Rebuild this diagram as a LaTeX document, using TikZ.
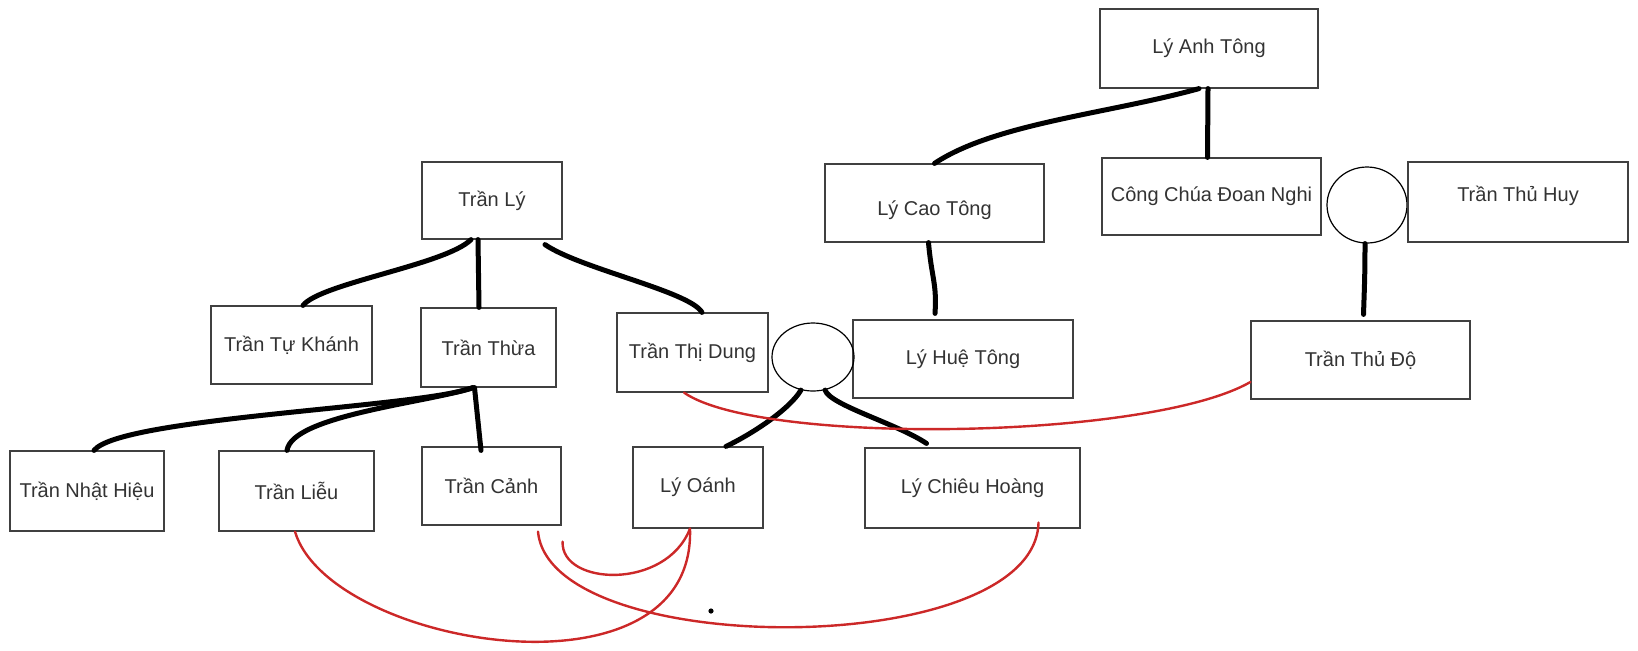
\documentclass[tikz,border=0pt]{standalone}
\usepackage{fontspec}
\setmainfont{Liberation Sans}
\usetikzlibrary{shapes.geometric}
\definecolor{inkred}{RGB}{204,40,40}
\definecolor{textgray}{RGB}{51,51,51}
\begin{document}
\begin{tikzpicture}[x=0.5pt,y=-0.5pt,
  person/.style={draw=black!75, line width=0.6pt, minimum height=39pt, inner sep=0pt,
    text=textgray, font=\fontsize{10}{12}\selectfont},
  ring/.style={draw, ellipse, line width=0.6pt, inner sep=0pt},
  kin/.style={line width=2.5pt, line cap=round},
  wed/.style={draw=inkred, line width=1.2pt, line cap=round}]
\useasboundingbox (0,0) rectangle (1638,650);
% Draw the Ly side
\node[person, minimum width=109pt, minimum height=39.5pt] (anhtong) at (1209,48.5) {Lý Anh Tông};
\node[person, minimum width=109.5pt] (caotong) at (934.5,203) {\raisebox{-15pt}{Lý Cao Tông}};
\node[person, minimum width=109.5pt, minimum height=38.5pt] (doannghi) at (1211.5,196.5) {Công Chúa Đoan Nghi};
\node[ring, minimum width=40pt, minimum height=38pt] (ring1) at (1367,205) {};
\node[person, minimum width=110pt, minimum height=40pt] (thuhuy) at (1518,202) {\raisebox{8pt}{Trần Thủ Huy}};
\node[person, minimum width=110pt] (huetong) at (963,359) {Lý Huệ Tông};
\node[person, minimum width=109.5pt] (thudo) at (1360.5,360) {Trần Thủ Độ};
% Draw the Tran side
\node[person, minimum width=70pt, minimum height=38.5pt] (tranly) at (492,200.5) {Trần Lý};
\node[person, minimum width=80.5pt] (tukhanh) at (291.5,345) {Trần Tự Khánh};
\node[person, minimum width=67.5pt, minimum height=39.5pt] (thua) at (488.5,347.5) {Trần Thừa};
\node[person, minimum width=75.5pt, minimum height=39.5pt] (thidung) at (692.5,352.5) {Trần Thị Dung};
\node[ring, minimum width=41pt, minimum height=34pt] (ring2) at (813,357) {};
% Draw the bottom row
\node[person, minimum width=77pt, minimum height=40pt] (nhathieu) at (87,491) {Trần Nhật Hiệu};
\node[person, minimum width=77.5pt, minimum height=40pt] (lieu) at (296.5,491) {Trần Liễu};
\node[person, minimum width=69.5pt] (canh) at (491.5,486) {Trần Cảnh};
\node[person, minimum width=65pt, minimum height=40.5pt] (oanh) at (698,487.5) {Lý Oánh};
\node[person, minimum width=107.5pt, minimum height=40pt] (chieuhoang) at (972.5,488) {Lý Chiêu Hoàng};

% Draw black lines
\draw[kin] ([xshift=-5pt]anhtong.south) .. controls +(-90,25) and +(60,-40) .. (caotong.north);
\draw[kin] ([xshift=-0.5pt]anhtong.south) -- ([xshift=-2pt]doannghi.north);
\draw[kin] ([xshift=-3pt]caotong.south) .. controls +(3,35) and +(2,-30) .. ([xshift=-14pt,yshift=3pt]huetong.north);
\draw[kin] ([xshift=-1pt]ring1.south) .. controls +(0,30) and +(1,-30) .. ([xshift=1.5pt,yshift=3pt]thudo.north);
\draw[kin] ([xshift=-10.5pt]tranly.south) .. controls +(-25,25) and +(17,-22) .. ([xshift=5.75pt]tukhanh.north);
\draw[kin] ([xshift=-7pt]tranly.south) -- ([xshift=-4.75pt]thua.north);
\draw[kin] ([xshift=26.5pt,yshift=-2.5pt]tranly.south) .. controls +(35,24) and +(-12,-21) .. ([xshift=4.75pt]thidung.north);
\draw[kin] ([xshift=-7.75pt]thua.south) .. controls +(-53,20) and +(26,-33) .. ([xshift=3.5pt]nhathieu.north);
\draw[kin] ([xshift=-7.75pt]thua.south) .. controls +(-45,15) and +(5,-35) .. ([xshift=-4.75pt]lieu.north);
\draw[kin] ([xshift=-7pt]thua.south) -- ([xshift=-5.25pt,yshift=-2pt]canh.north);
\draw[kin] (ring2.250) .. controls +(-12,20) and +(25,-12) .. ([xshift=14pt]oanh.north);
\draw[kin] (ring2.290) .. controls +(5,15) and +(-30,-20) .. ([xshift=-23pt,yshift=2pt]chieuhoang.north);

% Draw red lines
\draw[wed] ([xshift=-4.25pt]thidung.south) .. controls +(76,53) and +(-101,58) .. ([yshift=-11pt]thudo.west);
\draw[wed] ([xshift=-0.75pt]lieu.south) .. controls +(34,115) and +(6,180) .. ([xshift=-4pt]oanh.south);
\draw[wed] ([xshift=23.25pt,yshift=-3pt]canh.south) .. controls +(12,129) and +(-3.5,138) .. ([xshift=33pt,yshift=3pt]chieuhoang.south);
\draw[wed] ([xshift=0.5pt,yshift=-8pt]canh.south east) .. controls +(-2,44) and +(-24,62) .. ([xshift=-4pt]oanh.south);

\fill (711,611) circle (1.3pt);
\end{tikzpicture}
\end{document}
